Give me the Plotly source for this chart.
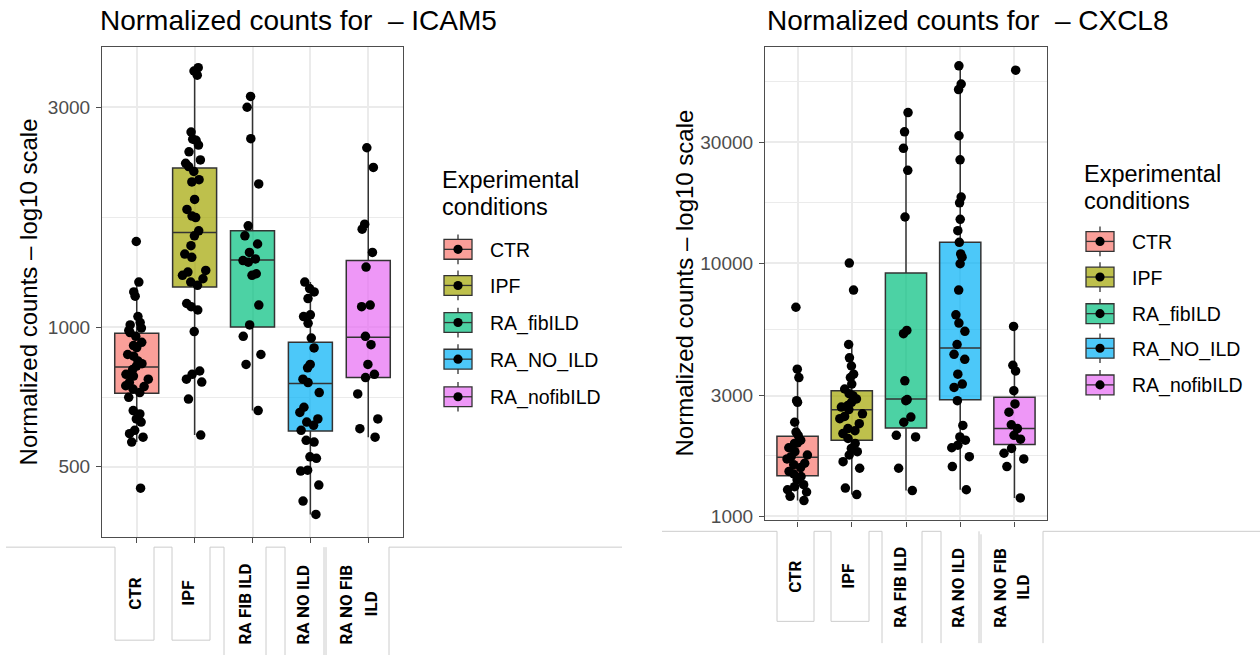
import math
import plotly.graph_objects as go

W, H = 1260, 662

categories = ["CTR", "IPF", "RA_fibILD", "RA_NO_ILD", "RA_nofibILD"]
colors = ["#F8766D", "#A3A500", "#00BF7D", "#00B0F6", "#E76BF3"]

# ---------------- ICAM5 (normalized counts) ----------------
icam5_ctr = [1535, 1254, 1194, 1169, 1056, 1025, 1013, 997, 985, 975, 957, 929, 914, 905, 874, 867,
             846, 835, 825, 811, 792, 785, 773, 760, 748, 745, 736, 723, 706, 661, 650, 634, 624,
             599, 589, 579, 565, 449]
icam5_ipf = [3651, 3590, 3516, 2649, 2556, 2541, 2482, 2400, 2305, 2266, 2230, 2176, 2089, 2065,
             1893, 1801, 1742, 1729, 1619, 1579, 1503, 1442, 1419, 1329, 1318, 1297, 1275, 1254,
             1234, 1127, 1109, 1091, 980, 805, 792, 773, 762, 700, 585]
icam5_fib = [3163, 2997, 2563, 2045, 1660, 1579, 1516, 1454, 1407, 1396, 1385, 1307, 1297, 1118,
             1013, 957, 874, 832, 661]
icam5_noild = [1254, 1214, 1194, 1155, 1065, 1056, 1021, 949, 903, 832, 818, 773, 760, 723, 672,
               655, 634, 624, 614, 599, 570, 565, 525, 521, 491, 489, 456, 421, 394]
icam5_nofib = [2449, 2220, 1673, 1632, 1454, 1351, 1118, 1109, 957, 918, 832, 792, 779, 718, 634,
               604, 579]
icam5_q1 = [721, 1224, 1002, 597, 779]
icam5_median = [821, 1605, 1400, 756, 953]
icam5_q3 = [972, 2213, 1619, 929, 1396]
icam5_low = [565, 585, 661, 394, 579]
icam5_high = [1254, 3651, 3163, 1254, 2449]

# ---------------- CXCL8 (normalized counts) ----------------
cxcl8_ctr = [6692, 3811, 3533, 2864, 2820, 2353, 2152, 2090, 1999, 1950, 1940, 1866, 1800, 1747,
             1720, 1685, 1621, 1600, 1559, 1504, 1470, 1437, 1395, 1334, 1310, 1274, 1248, 1200, 1155]
cxcl8_ipf = [10000, 7822, 4770, 4227, 3924, 3641, 3533, 3329, 3183, 3050, 2997, 2909, 2820, 2738,
             2700, 2641, 2541, 2480, 2430, 2323, 2221, 2180, 2123, 2030, 1940, 1854, 1800, 1747,
             1644, 1549, 1294, 1219]
cxcl8_fib = [39270, 32960, 28370, 23240, 15200, 5420, 5266, 3428, 2891, 2864, 2466, 2353, 2090,
             2059, 1549, 1264]
cxcl8_noild = [60060, 50930, 48410, 31820, 25560, 18220, 17300, 14890, 13420, 12080, 10870, 10550,
               9940, 7822, 6248, 5794, 5377, 4770, 4361, 4168, 3641, 3329, 3228, 2864, 2286, 2059,
               1999, 1910, 1866, 1720, 1572, 1274]
cxcl8_nofib = [57770, 5623, 3950, 3750, 3135, 2780, 2578, 2300, 2221, 2090, 2018, 1854, 1775, 1685,
               1572, 1183]
cxcl8_q1 = [1446, 1999, 2233, 2885, 1922]
cxcl8_median = [1711, 2637, 2909, 4624, 2221]
cxcl8_q3 = [2071, 3135, 9140, 12080, 2954]
cxcl8_low = [1155, 1219, 1264, 1274, 1183]
cxcl8_high = [3811, 4770, 39270, 60060, 5623]

icam5_ticks = [500, 1000, 3000]
cxcl8_ticks = [1000, 3000, 10000, 30000]
table_labels = ["CTR", "IPF", "RA FIB ILD", "RA NO ILD", "RA NO FIB", "ILD"]
legend_title = ["Experimental", "conditions"]
panel_titles = ["Normalized counts for\u00a0 \u2013 ICAM5", "Normalized counts for\u00a0 \u2013 CXCL8"]
y_title = "Normalized counts \u2013 log10 scale"

FONT = "Liberation Sans, Arial, Helvetica, sans-serif"
BOLD = "Roboto, Liberation Sans, Arial, sans-serif"
BOX_W = 0.76


def rgba(hexc, a):
    h = hexc.lstrip("#")
    return "rgba(%d,%d,%d,%.2f)" % (int(h[0:2], 16), int(h[2:4], 16), int(h[4:6], 16), a)


def px(x):
    return x / W


def py(y):
    return 1 - y / H


fig = go.Figure()
shapes = []
ann = []

panels = [
    ("x", "y", [icam5_ctr, icam5_ipf, icam5_fib, icam5_noild, icam5_nofib],
     icam5_q1, icam5_median, icam5_q3, icam5_low, icam5_high),
    ("x2", "y2", [cxcl8_ctr, cxcl8_ipf, cxcl8_fib, cxcl8_noild, cxcl8_nofib],
     cxcl8_q1, cxcl8_median, cxcl8_q3, cxcl8_low, cxcl8_high),
]

for xa, ya, pts, q1, med, q3, lo, hi in panels:
    for i, cat in enumerate(categories):
        fig.add_trace(go.Box(
            x=[cat], y=[pts[i]], q1=[q1[i]], median=[med[i]], q3=[q3[i]],
            lowerfence=[lo[i]], upperfence=[hi[i]],
            boxpoints="all", jitter=0.6, pointpos=0, width=BOX_W, whiskerwidth=0,
            fillcolor=rgba(colors[i], 0.7),
            line=dict(color="#333333", width=1.5),
            marker=dict(color="black", size=9.5),
            xaxis=xa, yaxis=ya, showlegend=False, name=cat,
        ))
        # thicker median bar (ggplot fatten) drawn in axis coordinates
        shapes.append(dict(type="line", xref=xa, yref=ya, layer="above",
                           x0=i - BOX_W / 2, x1=i + BOX_W / 2,
                           y0=math.log10(med[i]), y1=math.log10(med[i]),
                           line=dict(color="#333333", width=3)))

grid = "#EBEBEB"
common_x = dict(type="category", categoryorder="array", categoryarray=categories,
                range=[-0.6, 4.6], showgrid=True, gridcolor=grid, gridwidth=1.6,
                showline=True, linecolor="#4D4D4D", linewidth=1.2, mirror=True,
                ticks="outside", ticklen=5, tickcolor="#4D4D4D", tickwidth=1.2,
                showticklabels=False, zeroline=False, fixedrange=True)
common_y = dict(type="log", showgrid=True, gridcolor=grid, gridwidth=1.6,
                showline=True, linecolor="#4D4D4D", linewidth=1.2, mirror=True,
                ticks="outside", ticklen=5, tickcolor="#4D4D4D", tickwidth=1.2,
                tickfont=dict(family=FONT, size=19, color="#4D4D4D"),
                zeroline=False, ticklabelstandoff=2)

fig.update_layout(
    width=W, height=H, margin=dict(l=0, r=0, t=0, b=0),
    paper_bgcolor="white", plot_bgcolor="white", boxmode="overlay",
    showlegend=False,
    xaxis=dict(common_x, domain=[px(102), px(403)], anchor="y"),
    yaxis=dict(common_y, domain=[py(543), py(48)], anchor="x", range=[2.546, 3.606],
               tickvals=icam5_ticks, ticktext=[str(v) for v in icam5_ticks],
               minor=dict(tickvals=[707.1, 1732.1], showgrid=True, gridcolor=grid,
                          gridwidth=0.9, ticks="")),
    xaxis2=dict(common_x, domain=[px(765), px(1047)], anchor="y2"),
    yaxis2=dict(common_y, domain=[py(526), py(47)], anchor="x2", range=[2.984, 4.855],
                tickvals=cxcl8_ticks, ticktext=[str(v) for v in cxcl8_ticks],
                minor=dict(tickvals=[1732.1, 5477.2, 17320.5, 51961.5], showgrid=True,
                           gridcolor=grid, gridwidth=0.9, ticks="")),
)


def text(x, y, s, size, xanchor="center", angle=0, bold=False, color="black", family=FONT):
    ann.append(dict(x=px(x), y=py(y), xref="paper", yref="paper", text=("<b>%s</b>" % s) if bold else s,
                    showarrow=False, xanchor=xanchor, yanchor="middle", textangle=angle,
                    font=dict(family=family, size=size, color=color)))


def line(x0, y0, x1, y1, color="#CCCCCC", width=1):
    shapes.append(dict(type="line", xref="paper", yref="paper", x0=px(x0), y0=py(y0),
                       x1=px(x1), y1=py(y1), line=dict(color=color, width=width)))


def poly(points, color="#CCCCCC", width=1):
    for (a, b), (c, d) in zip(points[:-1], points[1:]):
        line(a, b, c, d, color, width)


# titles
text(98, 21, panel_titles[0], 28, xanchor="left")
text(765, 21, panel_titles[1], 28, xanchor="left")
# y titles
text(28, 295.5, y_title, 24, angle=-90)
text(684, 286.5, y_title, 24, angle=-90)


# legends
def legend(tx, ty1, ty2, cx, cys, lx):
    text(tx, ty1, legend_title[0], 23.5, xanchor="left")
    text(tx, ty2, legend_title[1], 23.5, xanchor="left")
    for i, cy in enumerate(cys):
        shapes.append(dict(type="rect", xref="paper", yref="paper",
                           x0=px(cx - 14), x1=px(cx + 14), y0=py(cy + 10), y1=py(cy - 10),
                           fillcolor=rgba(colors[i], 0.7), line=dict(color="#333333", width=1.3)))
        line(cx - 14, cy, cx + 14, cy, "#333333", 1.3)
        line(cx, cy - 15, cx, cy - 10, "#333333", 1.3)
        line(cx, cy + 10, cx, cy + 15, "#333333", 1.3)
        shapes.append(dict(type="circle", xref="paper", yref="paper",
                           x0=px(cx - 4.6), x1=px(cx + 4.6), y0=py(cy + 4.6), y1=py(cy - 4.6),
                           fillcolor="black", line=dict(color="black", width=0)))
        text(lx, cy + 1, categories[i], 19.5, xanchor="left")


legend(440, 182, 209, 458, [252, 288.5, 326, 363, 401], 488)
legend(1082, 176, 203, 1100, [244, 280, 317, 352, 389], 1130)

# label tables under each panel
poly([(6, 553), (115, 553), (115, 647), (154, 647), (154, 553), (172, 553), (172, 647),
      (210, 647), (210, 553), (224, 553), (224, 662)])
poly([(266, 662), (266, 553), (285, 553), (285, 662)])
line(324, 553, 324, 662)
line(326, 553, 326, 662)
poly([(389, 662), (389, 553), (622, 553)])

poly([(662, 537), (777, 537), (777, 628), (814, 628), (814, 537), (831, 537), (831, 628),
      (869, 628), (869, 537), (882, 537), (882, 650)])
poly([(922, 650), (922, 537), (941, 537), (941, 650)])
line(979, 537, 979, 650)
line(981, 540, 981, 650)
poly([(1043, 650), (1043, 537), (1260, 537)])

left_lab_pos = [(135, 600), (188, 600), (245, 611), (303, 611), (346, 611), (371, 611)]
right_lab_pos = [(795, 583), (848, 583), (900, 594), (958, 594), (1000, 594), (1023, 594)]
for pos in (left_lab_pos, right_lab_pos):
    for s, (x, y) in zip(table_labels, pos):
        text(x, y, s, 17, angle=-90, bold=True, family=BOLD)

fig.update_layout(annotations=ann, shapes=shapes)

fig.write_html("out.html", config={"displayModeBar": False},
               post_script="document.body.style.margin='0';document.body.style.overflow='hidden';")
